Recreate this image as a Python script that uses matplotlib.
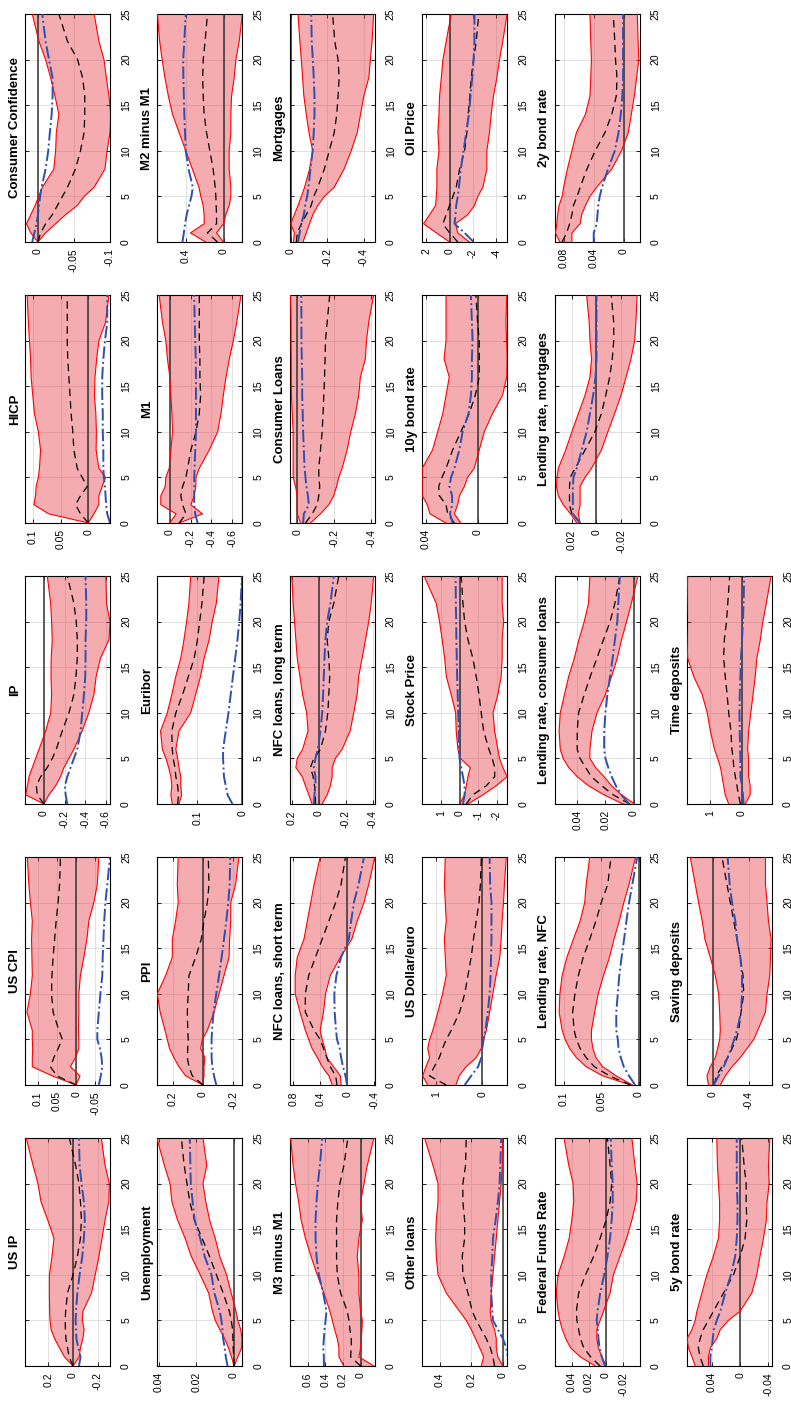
import matplotlib
matplotlib.use('Agg')
import matplotlib.pyplot as plt

plt.rcParams['font.family'] = ['Liberation Sans', 'DejaVu Sans']

# impulse response horizon (months)
horizon = [0, 1, 2, 3, 4, 5, 6, 8, 10, 12, 14, 16, 18, 20, 22, 25]

# --- row 1 ---
usip_hi = [0, 0.070, 0.110, 0.150, 0.178, 0.187, 0.190, 0.192, 0.192, 0.171, 0.155, 0.205, 0.260, 0.285, 0.325, 0.380]
usip_lo = [0, -0.050, -0.060, -0.080, -0.090, -0.075, -0.080, -0.150, -0.180, -0.210, -0.235, -0.260, -0.290, -0.295, -0.260, -0.230]
usip_med = [0, 0.032, 0.045, 0.058, 0.062, 0.064, 0.060, 0.045, 0.000, -0.035, -0.060, -0.068, -0.060, -0.048, -0.021, 0.030]
usip_alt = [-0.048, -0.061, -0.043, -0.027, -0.024, -0.021, -0.024, -0.035, -0.053, -0.075, -0.088, -0.096, -0.088, -0.069, -0.053, -0.048]

uscpi_hi = [0, 0.062, 0.114, 0.114, 0.113, 0.114, 0.114, 0.128, 0.119, 0.114, 0.115, 0.116, 0.114, 0.119, 0.123, 0.127]
uscpi_lo = [0, -0.010, 0.015, 0.002, -0.007, -0.007, -0.006, -0.007, -0.007, -0.011, -0.020, -0.028, -0.033, -0.046, -0.055, -0.059]
uscpi_med = [0, 0.050, 0.067, 0.058, 0.047, 0.036, 0.045, 0.060, 0.064, 0.063, 0.060, 0.056, 0.052, 0.047, 0.043, 0.041]
uscpi_alt = [-0.059, -0.064, -0.068, -0.066, -0.062, -0.055, -0.055, -0.059, -0.063, -0.068, -0.069, -0.071, -0.073, -0.076, -0.081, -0.088]

ip_hi = [0, 0.177, 0.160, 0.145, 0.113, 0.081, 0.048, -0.016, -0.065, -0.074, -0.068, -0.070, -0.080, -0.074, -0.065, -0.032]
ip_lo = [0, -0.048, -0.113, -0.161, -0.194, -0.242, -0.290, -0.370, -0.435, -0.484, -0.506, -0.548, -0.630, -0.640, -0.606, -0.600]
ip_med = [0, 0.065, 0.074, 0.032, -0.032, -0.081, -0.119, -0.177, -0.242, -0.290, -0.310, -0.323, -0.323, -0.313, -0.290, -0.226]
ip_alt = [-0.226, -0.210, -0.203, -0.226, -0.258, -0.290, -0.323, -0.355, -0.371, -0.387, -0.400, -0.403, -0.403, -0.410, -0.410, -0.403]

hicp_hi = [0, 0.071, 0.098, 0.095, 0.094, 0.090, 0.088, 0.086, 0.090, 0.097, 0.100, 0.103, 0.104, 0.106, 0.108, 0.110]
hicp_lo = [0, -0.010, -0.019, -0.019, -0.025, -0.031, -0.019, -0.014, -0.0145, -0.0135, -0.011, -0.012, -0.015, -0.019, -0.031, -0.037]
hicp_med = [0, 0.014, 0.023, 0.014, 0.002, 0.011, 0.020, 0.026, 0.028, 0.031, 0.033, 0.035, 0.037, 0.038, 0.038, 0.038]
hicp_alt = [-0.039, -0.034, -0.032, -0.031, -0.030, -0.028, -0.027, -0.027, -0.026, -0.026, -0.025, -0.025, -0.027, -0.030, -0.034, -0.034]

cc_hi = [0, 0.010, 0.016, 0.010, 0.004, -0.001, -0.006, -0.022, -0.0245, -0.0255, -0.029, -0.0236, -0.0176, -0.0106, -0.0014, 0.008]
cc_lo = [0, -0.0106, -0.0245, -0.0384, -0.0546, -0.064, -0.078, -0.093, -0.096, -0.100, -0.101, -0.0986, -0.095, -0.0917, -0.0847, -0.078]
cc_med = [0, -0.0037, -0.0106, -0.020, -0.027, -0.034, -0.041, -0.052, -0.059, -0.064, -0.065, -0.065, -0.062, -0.055, -0.041, -0.029]
cc_alt = [0.008, 0.005, 0.002, 0, -0.0014, -0.003, -0.005, -0.0106, -0.0143, -0.0165, -0.019, -0.0203, -0.0203, -0.0153, -0.0106, -0.006]

# --- row 2 ---
unemp_hi = [0, 0.0014, 0.003, 0.005, 0.0076, 0.010, 0.0115, 0.0135, 0.018, 0.0227, 0.026, 0.030, 0.033, 0.034, 0.037, 0.041]
unemp_lo = [0, -0.002, -0.004, -0.0042, -0.0035, -0.002, -0.001, 0.0015, 0.004, 0.0076, 0.010, 0.013, 0.015, 0.0165, 0.0145, 0.0165]
unemp_med = [0, 0.0002, 0.0005, 0.0006, 0.0008, 0.0015, 0.0025, 0.0058, 0.0094, 0.013, 0.017, 0.021, 0.0235, 0.025, 0.0265, 0.028]
unemp_alt = [0.0035, 0.0044, 0.005, 0.0058, 0.0062, 0.0067, 0.0076, 0.0105, 0.012, 0.0156, 0.018, 0.021, 0.022, 0.023, 0.0232, 0.0235]

ppi_hi = [0, 0.114, 0.158, 0.191, 0.220, 0.235, 0.250, 0.282, 0.301, 0.246, 0.202, 0.202, 0.180, 0.163, 0.169, 0.163]
ppi_lo = [0, -0.007, -0.007, -0.013, 0.015, 0.004, -0.029, -0.073, -0.106, -0.139, -0.172, -0.176, -0.183, -0.183, -0.215, -0.237]
ppi_med = [0, 0.070, 0.092, 0.103, 0.100, 0.097, 0.100, 0.103, 0.097, 0.092, 0.048, 0.011, -0.007, -0.029, -0.040, -0.035]
ppi_alt = [-0.088, -0.073, -0.062, -0.057, -0.057, -0.057, -0.060, -0.070, -0.088, -0.106, -0.123, -0.139, -0.154, -0.167, -0.176, -0.180]

euribor_hi = [0.156, 0.159, 0.157, 0.159, 0.164, 0.170, 0.178, 0.182, 0.167, 0.157, 0.148, 0.137, 0.130, 0.124, 0.119, 0.115]
euribor_lo = [0.141, 0.135, 0.137, 0.137, 0.141, 0.144, 0.148, 0.141, 0.115, 0.104, 0.093, 0.085, 0.074, 0.067, 0.058, 0.052]
euribor_med = [0.144, 0.142, 0.144, 0.148, 0.150, 0.154, 0.156, 0.157, 0.148, 0.133, 0.120, 0.107, 0.100, 0.095, 0.090, 0.085]
euribor_alt = [0.022, 0.033, 0.037, 0.041, 0.042, 0.043, 0.043, 0.037, 0.031, 0.026, 0.021, 0.016, 0.011, 0.007, 0.004, 0.001]

m1_hi = [0.0, -0.06, 0.087, 0.087, 0.045, 0.039, 0.006, -0.01, -0.026, -0.02, -0.01, 0.0, 0.023, 0.039, 0.071, 0.103]
m1_lo = [-0.09, -0.316, -0.203, -0.235, -0.25, -0.252, -0.284, -0.381, -0.461, -0.494, -0.516, -0.542, -0.574, -0.613, -0.645, -0.687]
m1_med = [-0.09, -0.155, -0.123, -0.106, -0.123, -0.155, -0.171, -0.203, -0.252, -0.284, -0.297, -0.29, -0.29, -0.284, -0.284, -0.284]
m1_alt = [-0.268, -0.245, -0.235, -0.235, -0.235, -0.235, -0.238, -0.245, -0.252, -0.252, -0.252, -0.252, -0.25, -0.245, -0.24, -0.235]

m2m1_hi = [0.19, 0.35, 0.205, 0.205, 0.216, 0.24, 0.26, 0.33, 0.40, 0.47, 0.54, 0.584, 0.62, 0.65, 0.676, 0.70]
m2m1_lo = [0.0, 0.074, 0.0, -0.025, -0.06, -0.078, -0.078, -0.06, -0.06, -0.078, -0.078, -0.085, -0.113, -0.131, -0.166, -0.20]
m2m1_med = [0.064, 0.17, 0.074, 0.074, 0.078, 0.081, 0.088, 0.11, 0.145, 0.18, 0.205, 0.215, 0.22, 0.215, 0.195, 0.17]
m2m1_alt = [0.435, 0.42, 0.407, 0.39, 0.365, 0.34, 0.325, 0.37, 0.40, 0.407, 0.415, 0.42, 0.425, 0.427, 0.415, 0.40]

# --- row 3 ---
m3m1_hi = [0.19, 0.245, 0.245, 0.264, 0.294, 0.32, 0.347, 0.415, 0.49, 0.56, 0.623, 0.672, 0.70, 0.736, 0.763, 0.79]
m3m1_lo = [-0.15, 0.02, 0.0, -0.008, -0.015, -0.019, 0.0, 0.02, 0.02, 0.038, 0.02, -0.019, 0.0, -0.038, -0.075, -0.15]
m3m1_med = [0.0, 0.113, 0.106, 0.106, 0.121, 0.132, 0.151, 0.226, 0.264, 0.272, 0.272, 0.272, 0.257, 0.234, 0.189, 0.144]
m3m1_alt = [0.415, 0.415, 0.423, 0.415, 0.408, 0.396, 0.385, 0.423, 0.472, 0.498, 0.509, 0.509, 0.498, 0.483, 0.46, 0.434]

nfcst_hi = [0.22, 0.27, 0.37, 0.44, 0.52, 0.57, 0.62, 0.70, 0.77, 0.77, 0.74, 0.64, 0.59, 0.54, 0.49, 0.40]
nfcst_lo = [0.09, 0.10, 0.20, 0.30, 0.33, 0.37, 0.40, 0.35, 0.32, 0.25, 0.10, -0.07, -0.15, -0.25, -0.32, -0.41]
nfcst_med = [0.15, 0.17, 0.25, 0.30, 0.35, 0.40, 0.49, 0.62, 0.62, 0.57, 0.47, 0.37, 0.27, 0.17, 0.09, 0.025]
nfcst_alt = [0.0, 0.025, 0.06, 0.09, 0.11, 0.15, 0.165, 0.185, 0.19, 0.16, 0.09, -0.025, -0.06, -0.10, -0.17, -0.25]

nfclt_hi = [0.05, 0.074, 0.099, 0.123, 0.17, 0.16, 0.12, 0.08, 0.09, 0.12, 0.14, 0.16, 0.17, 0.18, 0.19, 0.20]
nfclt_lo = [-0.025, -0.062, -0.086, -0.099, -0.099, -0.123, -0.173, -0.232, -0.259, -0.284, -0.296, -0.321, -0.346, -0.37, -0.388, -0.407]
nfclt_med = [0.025, 0.025, 0.032, 0.042, 0.062, 0.037, -0.012, -0.049, -0.067, -0.074, -0.081, -0.074, -0.062, -0.074, -0.111, -0.148]
nfclt_alt = [0.037, 0.032, 0.025, 0.025, 0.037, 0.025, 0.007, -0.012, -0.025, -0.032, -0.037, -0.042, -0.049, -0.062, -0.086, -0.111]

cl_hi = [-0.018, 0.0, 0.0, 0.0, 0.009, 0.022, 0.022, 0.022, 0.022, 0.027, 0.031, 0.032, 0.032, 0.033, 0.033, 0.036]
cl_lo = [-0.072, -0.126, -0.171, -0.198, -0.213, -0.225, -0.243, -0.27, -0.29, -0.315, -0.333, -0.342, -0.369, -0.375, -0.387, -0.414]
cl_med = [-0.045, -0.081, -0.108, -0.117, -0.122, -0.117, -0.117, -0.126, -0.135, -0.14, -0.144, -0.148, -0.151, -0.153, -0.162, -0.176]
cl_alt = [-0.032, -0.036, -0.063, -0.058, -0.05, -0.045, -0.04, -0.036, -0.032, -0.03, -0.027, -0.027, -0.025, -0.023, -0.023, -0.022]

mort_hi = [-0.015, -0.02, 0.0, -0.02, -0.04, -0.058, -0.076, -0.103, -0.12, -0.10, -0.085, -0.072, -0.065, -0.058, -0.05, -0.04]
mort_lo = [-0.067, -0.085, -0.103, -0.121, -0.148, -0.184, -0.238, -0.292, -0.331, -0.364, -0.382, -0.40, -0.427, -0.436, -0.445, -0.454]
mort_med = [-0.031, -0.036, -0.058, -0.085, -0.112, -0.126, -0.148, -0.184, -0.211, -0.238, -0.252, -0.259, -0.265, -0.259, -0.241, -0.229]
mort_alt = [-0.04, -0.049, -0.058, -0.072, -0.079, -0.09, -0.097, -0.108, -0.12, -0.126, -0.13, -0.13, -0.126, -0.121, -0.115, -0.112]

# --- row 4 ---
other_hi = [0.137, 0.122, 0.147, 0.173, 0.2, 0.232, 0.274, 0.358, 0.41, 0.421, 0.425, 0.421, 0.41, 0.41, 0.442, 0.495]
other_lo = [0.0, 0.032, 0.042, 0.042, 0.053, 0.074, 0.08, 0.074, 0.063, 0.053, 0.042, 0.032, 0.021, 0.011, 0.004, 0.0]
other_med = [0.053, 0.063, 0.08, 0.105, 0.137, 0.168, 0.194, 0.221, 0.253, 0.257, 0.242, 0.242, 0.253, 0.253, 0.236, 0.232]
other_alt = [-0.032, -0.032, -0.021, 0.0, 0.032, 0.063, 0.067, 0.074, 0.074, 0.067, 0.063, 0.046, 0.032, 0.021, 0.017, 0.011]

usd_hi = [1.18, 1.29, 1.22, 1.14, 1.18, 1.14, 1.07, 0.96, 0.86, 0.78, 0.8, 0.82, 0.78, 0.8, 0.82, 0.8]
usd_lo = [0.57, 0.5, 0.35, 0.13, 0.02, -0.03, -0.09, -0.16, -0.23, -0.3, -0.38, -0.41, -0.43, -0.46, -0.48, -0.52]
usd_med = [0.78, 1.14, 1.04, 0.93, 0.86, 0.78, 0.67, 0.49, 0.38, 0.31, 0.24, 0.19, 0.13, 0.07, 0.04, 0.02]
usd_alt = [0.38, 0.24, 0.09, 0.02, 0.0, -0.03, -0.07, -0.12, -0.16, -0.18, -0.19, -0.2, -0.2, -0.2, -0.17, -0.16]

stock_hi = [0, -0.27, -0.36, -0.45, -0.57, -0.04, 0.09, 0.18, 0.21, 0.45, 0.71, 0.8, 0.93, 1.07, 1.25, 1.9]
stock_lo = [-0.45, -1.25, -1.96, -2.55, -2.32, -2.14, -2.05, -1.88, -1.79, -2.05, -2.23, -2.28, -2.28, -2.36, -2.28, -2.28]
stock_med = [-0.36, -0.71, -1.43, -1.88, -1.88, -1.75, -1.57, -1.29, -1.16, -1.04, -0.89, -0.71, -0.45, -0.27, -0.18, -0.09]
stock_alt = [-0.18, -0.27, -0.27, -0.18, -0.09, 0.0, 0.02, 0.05, 0.07, 0.1, 0.13, 0.15, 0.17, 0.18, 0.2, 0.21]

y10_hi = [0.0245, 0.037, 0.039, 0.043, 0.043, 0.043, 0.043, 0.035, 0.031, 0.027, 0.0245, 0.022, 0.026, 0.0245, 0.0245, 0.0245]
y10_lo = [0.013, 0.018, 0.0155, 0.014, 0.0103, 0.0077, 0.0026, -0.0013, -0.0052, -0.0116, -0.0194, -0.0226, -0.023, -0.0225, -0.022, -0.0227]
y10_med = [0.018, 0.0232, 0.0245, 0.0297, 0.0302, 0.0276, 0.0245, 0.0194, 0.013, 0.0065, 0.0018, -0.0013, -0.0013, -0.0013, 0.0, 0.0013]
y10_alt = [0.0194, 0.0214, 0.0198, 0.0198, 0.0219, 0.0206, 0.018, 0.0142, 0.0116, 0.007, 0.0052, 0.0044, 0.0044, 0.0039, 0.0044, 0.0052]

oil_hi = [0, 1.14, 2.23, 1.71, 1.2, 1.14, 1.09, 1.09, 0.91, 1.0, 0.91, 0.86, 0.71, 0.57, 0.29, -0.14]
oil_lo = [-1.71, -0.71, -0.51, -1.57, -2.14, -2.43, -2.86, -3.2, -3.2, -3.43, -3.57, -3.77, -4.06, -4.29, -4.57, -4.94]
oil_med = [-0.71, 0.0, 0.57, 0.29, 0.0, -0.29, -0.57, -0.86, -1.29, -1.49, -1.6, -1.74, -1.86, -2.06, -2.29, -2.51]
oil_alt = [-2.06, -1.29, -0.43, -0.51, -0.57, -0.71, -0.8, -0.97, -1.2, -1.43, -1.66, -1.8, -1.94, -2.06, -2.14, -2.14]

# --- row 5 ---
ffr_hi = [0.0127, 0.03, 0.0415, 0.047, 0.051, 0.054, 0.056, 0.058, 0.056, 0.049, 0.043, 0.04, 0.0377, 0.0385, 0.0435, 0.049]
ffr_lo = [0.0, 0.005, 0.009, 0.0108, 0.0108, 0.007, 0.003, -0.0046, -0.0085, -0.0162, -0.0239, -0.03, -0.035, -0.0362, -0.0335, -0.03]
ffr_med = [0.007, 0.018, 0.026, 0.03, 0.032, 0.034, 0.0346, 0.032, 0.024, 0.0146, 0.007, 0.0, -0.0046, -0.0065, -0.0046, -0.0015]
ffr_alt = [0.0012, 0.005, 0.0077, 0.0089, 0.0096, 0.011, 0.01, 0.0069, 0.0023, -0.0015, -0.0046, -0.0065, -0.0077, -0.0077, -0.0065, -0.0054]

lrnfc_hi = [0.011, 0.048, 0.07, 0.083, 0.092, 0.098, 0.102, 0.106, 0.105, 0.102, 0.0957, 0.087, 0.078, 0.072, 0.07, 0.0653]
lrnfc_lo = [0.0087, 0.03, 0.048, 0.057, 0.061, 0.063, 0.063, 0.0587, 0.054, 0.047, 0.039, 0.033, 0.026, 0.02, 0.013, 0.0044]
lrnfc_med = [0.011, 0.039, 0.059, 0.07, 0.078, 0.083, 0.086, 0.088, 0.085, 0.0804, 0.074, 0.0652, 0.057, 0.05, 0.0413, 0.037]
lrnfc_alt = [0.005, 0.013, 0.02, 0.024, 0.027, 0.028, 0.03, 0.03, 0.028, 0.026, 0.023, 0.0196, 0.0165, 0.013, 0.0087, 0.0022]

lrcl_hi = [0.0074, 0.021, 0.032, 0.04, 0.046, 0.05, 0.052, 0.0528, 0.052, 0.049, 0.046, 0.042, 0.0388, 0.035, 0.032, 0.031]
lrcl_lo = [-0.0007, 0.0086, 0.0156, 0.021, 0.027, 0.031, 0.031, 0.0295, 0.026, 0.02, 0.0156, 0.0116, 0.0086, 0.005, 0.0016, -0.003]
lrcl_med = [0.0028, 0.0144, 0.0226, 0.03, 0.034, 0.038, 0.04, 0.04, 0.039, 0.035, 0.0307, 0.026, 0.0214, 0.0167, 0.0133, 0.0098]
lrcl_alt = [0.0033, 0.0086, 0.0126, 0.0156, 0.018, 0.02, 0.0209, 0.0209, 0.02, 0.0186, 0.0167, 0.0149, 0.0133, 0.0116, 0.0109, 0.0098]

lrmort_hi = [0.016, 0.021, 0.027, 0.031, 0.0325, 0.032, 0.031, 0.025, 0.02, 0.0147, 0.0093, 0.0053, 0.004, 0.0053, 0.0059, 0.008]
lrmort_lo = [0.0133, 0.0147, 0.0133, 0.0133, 0.0133, 0.0093, 0.004, -0.004, -0.0093, -0.0147, -0.02, -0.024, -0.028, -0.031, -0.032, -0.033]
lrmort_med = [0.0133, 0.02, 0.0219, 0.0219, 0.0219, 0.0213, 0.0173, 0.0093, 0.0013, -0.004, -0.0075, -0.0107, -0.0128, -0.014, -0.014, -0.012]
lrmort_alt = [0.0133, 0.0192, 0.0192, 0.0192, 0.0192, 0.0187, 0.016, 0.012, 0.008, 0.0053, 0.0027, 0.0008, 0.0, 0.0, 0.0, 0.0]

y2_hi = [0.085, 0.091, 0.089, 0.088, 0.086, 0.082, 0.08, 0.075, 0.069, 0.063, 0.051, 0.045, 0.044, 0.043, 0.044, 0.045]
y2_lo = [0.069, 0.069, 0.058, 0.056, 0.051, 0.045, 0.036, 0.016, 0.003, -0.006, -0.01, -0.014, -0.017, -0.02, -0.019, -0.018]
y2_med = [0.082, 0.076, 0.072, 0.069, 0.067, 0.062, 0.058, 0.049, 0.038, 0.025, 0.016, 0.01, 0.009, 0.011, 0.012, 0.014]
y2_alt = [0.04, 0.04, 0.036, 0.035, 0.034, 0.032, 0.029, 0.021, 0.012, 0.007, 0.004, 0.002, 0.001, 0.001, 0.001, 0.001]

# --- row 6 ---
y5_hi = [0.0635, 0.068, 0.073, 0.075, 0.068, 0.0635, 0.061, 0.054, 0.047, 0.038, 0.0306, 0.029, 0.029, 0.0306, 0.032, 0.033]
y5_lo = [0.0447, 0.0447, 0.042, 0.033, 0.028, 0.0165, 0.0, -0.0165, -0.0235, -0.028, -0.033, -0.037, -0.038, -0.041, -0.04, -0.042]
y5_med = [0.052, 0.0565, 0.059, 0.0565, 0.052, 0.0447, 0.0377, 0.0235, 0.0094, 0.0, -0.007, -0.0094, -0.0085, -0.0085, -0.0056, -0.0024]
y5_alt = [0.042, 0.042, 0.04, 0.0386, 0.037, 0.033, 0.028, 0.021, 0.013, 0.007, 0.0047, 0.0038, 0.0038, 0.0047, 0.0047, 0.0047]

sav_hi = [0.05, 0.067, 0.03, -0.026, -0.052, -0.075, -0.082, -0.075, -0.064, -0.026, 0.03, 0.09, 0.12, 0.16, 0.198, 0.254]
sav_lo = [-0.082, -0.138, -0.213, -0.306, -0.381, -0.456, -0.501, -0.587, -0.605, -0.635, -0.643, -0.65, -0.62, -0.605, -0.587, -0.587]
sav_med = [-0.015, -0.037, -0.101, -0.164, -0.213, -0.262, -0.288, -0.314, -0.344, -0.336, -0.306, -0.269, -0.232, -0.194, -0.157, -0.101]
sav_alt = [-0.007, -0.064, -0.12, -0.164, -0.202, -0.239, -0.269, -0.314, -0.325, -0.325, -0.306, -0.269, -0.25, -0.213, -0.187, -0.164]

timed_hi = [0.42, 0.53, 0.58, 0.63, 0.68, 0.77, 0.87, 1.0, 1.1, 1.26, 1.53, 1.72, 1.74, 1.76, 1.74, 1.72]
timed_lo = [-0.1, -0.26, -0.26, -0.21, -0.21, -0.21, -0.18, -0.21, -0.28, -0.35, -0.42, -0.47, -0.58, -0.66, -0.77, -0.92]
timed_med = [0.05, 0.11, 0.16, 0.21, 0.26, 0.28, 0.32, 0.35, 0.42, 0.47, 0.53, 0.58, 0.56, 0.49, 0.45, 0.39]
timed_alt = [-0.05, -0.03, 0.0, 0.05, 0.05, 0.05, 0.06, 0.07, 0.08, 0.07, 0.05, 0.03, 0.0, -0.03, -0.05, -0.07]

# (title, upper, lower, median, alternative, value range, value ticks)
# laid out like the original landscape figure: 6 rows x 5 columns
panels = [
    [('US IP', usip_hi, usip_lo, usip_med, usip_alt, (-0.30, 0.39), [-0.2, 0, 0.2]),
     ('US CPI', uscpi_hi, uscpi_lo, uscpi_med, uscpi_alt, (-0.088, 0.133), [-0.05, 0, 0.05, 0.1]),
     ('IP', ip_hi, ip_lo, ip_med, ip_alt, (-0.64, 0.184), [-0.6, -0.4, -0.2, 0]),
     ('HICP', hicp_hi, hicp_lo, hicp_med, hicp_alt, (-0.039, 0.114), [0, 0.05, 0.1]),
     ('Consumer Confidence', cc_hi, cc_lo, cc_med, cc_alt, (-0.1, 0.018), [-0.1, -0.05, 0])],
    [('Unemployment', unemp_hi, unemp_lo, unemp_med, unemp_alt, (-0.0044, 0.0407), [0, 0.02, 0.04]),
     ('PPI', ppi_hi, ppi_lo, ppi_med, ppi_alt, (-0.26, 0.30), [-0.2, 0, 0.2]),
     ('Euribor', euribor_hi, euribor_lo, euribor_med, euribor_alt, (0, 0.189), [0, 0.1]),
     ('M1', m1_hi, m1_lo, m1_med, m1_alt, (-0.70, 0.12), [-0.6, -0.4, -0.2, 0]),
     ('M2 minus M1', m2m1_hi, m2m1_lo, m2m1_med, m2m1_alt, (-0.2, 0.7), [0, 0.4])],
    [('M3 minus M1', m3m1_hi, m3m1_lo, m3m1_med, m3m1_alt, (-0.16, 0.8), [0, 0.2, 0.4, 0.6]),
     ('NFC loans, short term', nfcst_hi, nfcst_lo, nfcst_med, nfcst_alt, (-0.41, 0.85), [-0.4, 0, 0.4, 0.8]),
     ('NFC loans, long term', nfclt_hi, nfclt_lo, nfclt_med, nfclt_alt, (-0.415, 0.215), [-0.4, -0.2, 0, 0.2]),
     ('Consumer Loans', cl_hi, cl_lo, cl_med, cl_alt, (-0.42, 0.04), [-0.4, -0.2, 0]),
     ('Mortgages', mort_hi, mort_lo, mort_med, mort_alt, (-0.46, 0.005), [-0.4, -0.2, 0])],
    [('Other loans', other_hi, other_lo, other_med, other_alt, (-0.027, 0.51), [0, 0.2, 0.4]),
     ('US Dollar/euro', usd_hi, usd_lo, usd_med, usd_alt, (-0.54, 1.3), [0, 1]),
     ('Stock Price', stock_hi, stock_lo, stock_med, stock_alt, (-2.55, 2.0), [-2, -1, 0, 1]),
     ('10y bond rate', y10_hi, y10_lo, y10_med, y10_alt, (-0.023, 0.043), [0, 0.04]),
     ('Oil Price', oil_hi, oil_lo, oil_med, oil_alt, (-4.95, 2.35), [-4, -2, 0, 2])],
    [('Federal Funds Rate', ffr_hi, ffr_lo, ffr_med, ffr_alt, (-0.039, 0.06), [-0.02, 0, 0.02, 0.04]),
     ('Lending rate, NFC', lrnfc_hi, lrnfc_lo, lrnfc_med, lrnfc_alt, (-0.001, 0.112), [0, 0.05, 0.1]),
     ('Lending rate, consumer loans', lrcl_hi, lrcl_lo, lrcl_med, lrcl_alt, (-0.0042, 0.056), [0, 0.02, 0.04]),
     ('Lending rate, mortgages', lrmort_hi, lrmort_lo, lrmort_med, lrmort_alt, (-0.035, 0.034), [-0.02, 0, 0.02]),
     ('2y bond rate', y2_hi, y2_lo, y2_med, y2_alt, (-0.021, 0.092), [0, 0.04, 0.08])],
    [('5y bond rate', y5_hi, y5_lo, y5_med, y5_alt, (-0.045, 0.075), [-0.04, 0, 0.04]),
     ('Saving deposits', sav_hi, sav_lo, sav_med, sav_alt, (-0.66, 0.29), [-0.4, 0]),
     ('Time deposits', timed_hi, timed_lo, timed_med, timed_alt, (-0.95, 1.74), [0, 1]),
     None,
     None],
]

FILL = '#E8303A'
BAND = '#FF0000'
ALT = '#2F4FB0'

FIG_W, FIG_H = 791., 1402.


def draw_panel(ax, title, hi, lo, med, alt, vrange, vticks):
    ax.fill_betweenx(horizon, lo, hi, facecolor=FILL, alpha=0.4, lw=0, zorder=1)
    ax.axvline(0, color='#333333', lw=1.1, zorder=2)
    ax.plot(hi, horizon, color=BAND, lw=0.8, zorder=3)
    ax.plot(lo, horizon, color=BAND, lw=0.8, zorder=3)
    ax.plot(med, horizon, color='black', lw=0.9, ls=(0, (6, 4)), zorder=4)
    ax.plot(alt, horizon, color=ALT, lw=1.4, ls='-.', zorder=4)

    # picture is the landscape figure turned a quarter turn
    ax.set_xlim(vrange[1], vrange[0])
    ax.set_ylim(0, 25)
    ax.set_xticks(vticks)
    ax.set_xticklabels(['%g' % v for v in vticks])
    ax.set_yticks(range(0, 26, 5))
    ax.yaxis.tick_right()
    ax.tick_params(direction='in', length=3, width=0.6, top=True, bottom=True,
                   left=True, right=True, labelleft=False, labelright=True,
                   labelbottom=True, labelsize=7.5, labelrotation=90)
    ax.tick_params(axis='x', pad=4.5)
    ax.tick_params(axis='y', pad=8)
    for t in ax.get_yticklabels():
        t.set_va('center')
    ax.grid(True, color='#DCDCDC', lw=0.6)
    ax.set_axisbelow(True)
    for sp in ax.spines.values():
        sp.set_linewidth(0.8)

    ax.text(-0.05, 0.5, title, transform=ax.transAxes, rotation=90,
            ha='right', va='center', fontsize=9.5, fontweight='bold')


fig = plt.figure(figsize=(FIG_W / 100, FIG_H / 100), dpi=100)
for r, row in enumerate(panels):
    for c, spec in enumerate(row):
        if spec is None:
            continue
        left = 25 + 132.4 * r
        top = 14 + 281 * (4 - c)
        ax = fig.add_axes([left / FIG_W, 1 - (top + 228) / FIG_H, 85 / FIG_W, 228 / FIG_H])
        draw_panel(ax, *spec)

fig.savefig('out.png', dpi=100)
